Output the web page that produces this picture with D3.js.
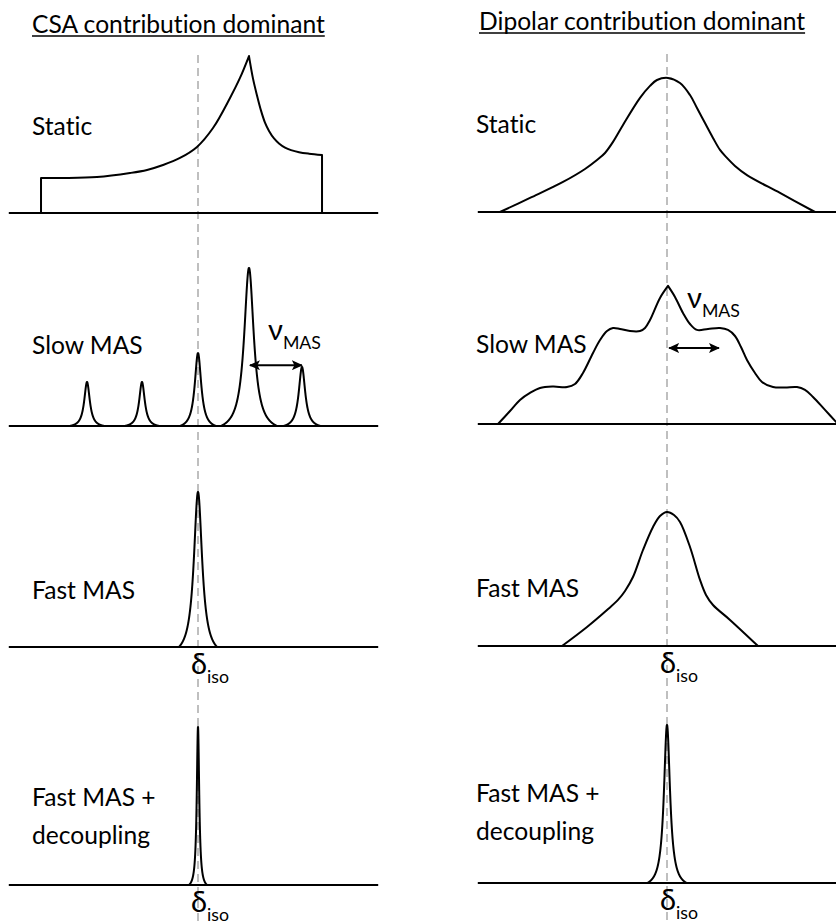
<!DOCTYPE html>
<html>
<head>
<meta charset="utf-8">
<script src="https://cdn.jsdelivr.net/npm/d3@7"></script>
<style>
  body { margin: 0; background: #fff; }
  svg { display: block; }
  text { font-family: Lato, "Open Sans", "Noto Sans", sans-serif; fill: #000;
         font-variant-ligatures: none; font-feature-settings: "liga" 0, "clig" 0; }
</style>
</head>
<body>
<svg id="chart" width="836" height="924"></svg>
<script>
// ---- Text ----
const columnTitles = ["CSA contribution dominant", "Dipolar contribution dominant"];
const rowLabels = [["Static"], ["Slow MAS"], ["Fast MAS"], ["Fast MAS +", "decoupling"]];
const isoLabel = ["δ", "iso"];
const masLabel = ["ν", "MAS"];

// ---- Data: x = offset from δiso in units of the spinning rate, y = normalised intensity ----
const baselineExtent = [-3.57, 3.40];

// CSA, static: powder pattern (rising edge up to the singularity, then the falling side)
const csaStaticLeftEdge = -2.962;
const csaStaticRightEdge = 2.340;
const csaStaticRise = [
  [-2.962, 0.219], [-2.547, 0.219], [-1.906, 0.225], [-1.283, 0.250], [-0.962, 0.269],
  [-0.660, 0.300], [-0.340, 0.344], [-0.019, 0.413], [0.283, 0.531], [0.604, 0.719],
  [0.792, 0.844], [0.962, 0.981]
];
const csaStaticFall = [
  [0.962, 0.981], [1.038, 0.840], [1.113, 0.735], [1.189, 0.640], [1.264, 0.565],
  [1.340, 0.513], [1.434, 0.466], [1.528, 0.435], [1.642, 0.409], [1.755, 0.393],
  [1.906, 0.380], [2.094, 0.371], [2.340, 0.363]
];

// CSA, slow MAS: spinning sidebands
const csaSidebandPos    = [-2.094, -1.057, 0, 0.962, 1.962];
const csaSidebandHeight = [0.275, 0.275, 0.456, 0.988, 0.369];
const csaSidebandWidth  = [0.064, 0.064, 0.074, 0.11, 0.074];
const csaSidebandFoot   = [0.33, 0.33, 0.34, 0.53, 0.35];

// CSA, fast MAS and fast MAS + decoupling: single isotropic line
const csaFastPeak = { pos: 0, height: 0.969, width: 0.095, foot: 0.36 };
const csaDecPeak  = { pos: 0, height: 0.988, width: 0.028, foot: 0.17 };

// Dipolar, static: broad line
const dipStaticShape = [
  [-3.151, 0], [-2.585, 0.088], [-1.962, 0.188], [-1.547, 0.269], [-1.321, 0.325],
  [-1.170, 0.369], [-1.019, 0.438], [-0.830, 0.544], [-0.509, 0.713], [-0.321, 0.788],
  [-0.189, 0.825], [0.019, 0.838], [0.245, 0.806], [0.434, 0.731], [0.566, 0.650],
  [0.717, 0.556], [0.868, 0.463], [1.000, 0.388], [1.132, 0.338], [1.283, 0.288],
  [1.509, 0.231], [2.132, 0.119], [2.792, 0]
];

// Dipolar, slow MAS: partly resolved sideband envelope
const dipSlowRise = [
  [-3.189, 0], [-2.962, 0.081], [-2.774, 0.150], [-2.585, 0.194], [-2.396, 0.225],
  [-2.151, 0.234], [-1.887, 0.231], [-1.736, 0.250], [-1.585, 0.319], [-1.396, 0.444],
  [-1.264, 0.525], [-1.132, 0.581], [-1.019, 0.600], [-0.887, 0.594], [-0.698, 0.581],
  [-0.509, 0.581], [-0.415, 0.600], [-0.321, 0.650], [-0.132, 0.788], [0.019, 0.863]
];
const dipSlowFall = [
  [0.019, 0.863], [0.151, 0.794], [0.302, 0.694], [0.434, 0.625], [0.566, 0.588],
  [0.774, 0.594], [1.000, 0.600], [1.151, 0.588], [1.283, 0.550], [1.396, 0.481],
  [1.509, 0.400], [1.660, 0.319], [1.792, 0.263], [2.000, 0.231], [2.226, 0.228],
  [2.453, 0.231], [2.604, 0.213], [2.755, 0.169], [2.981, 0.088], [3.226, 0]
];

// Dipolar, fast MAS
const dipFastShape = [
  [-1.981, 0], [-1.509, 0.119], [-1.132, 0.225], [-0.925, 0.288], [-0.792, 0.344],
  [-0.642, 0.431], [-0.453, 0.600], [-0.264, 0.744], [-0.132, 0.813], [0, 0.838],
  [0.132, 0.819], [0.245, 0.775], [0.434, 0.619], [0.623, 0.413], [0.736, 0.319],
  [0.868, 0.256], [1.189, 0.163], [1.717, 0]
];

// Dipolar, fast MAS + decoupling
const dipDecPeak = { pos: 0, height: 0.988, width: 0.07, foot: 0.37 };

// Spinning-rate arrows: [from, to, intensity level]
const csaMasArrow = [0.98, 1.96, 0.38];
const dipMasArrow = [0.04, 0.98, 0.475];

// ---- Layout ----
const W = 836, H = 924;
const panels = [
  { center: 198, baselines: [213, 426, 647, 885], labelX: 32, titleY: 32.5, titleX: 32 },
  { center: 667, baselines: [212, 424, 646, 883], labelX: 476, titleY: 29.5, titleX: 479 }
];
const unitPx = 53;       // pixels per unit of spinning rate
const intensityPx = 160; // pixels per unit intensity

const svg = d3.select("#chart");
svg.append("rect").attr("width", W).attr("height", H).attr("fill", "#fff");

// Font size chosen so the title spans its intended width
const probe = svg.append("text").attr("font-size", 100).text(columnTitles[0]);
const w100 = probe.node().getComputedTextLength();
probe.remove();
const fs = 100 * 293 / w100;
const subFs = fs * 0.72;
const greekFs = fs * 1.18;

const defs = svg.append("defs");
defs.append("marker")
  .attr("id", "head")
  .attr("viewBox", "0 0 11 10")
  .attr("refX", 10).attr("refY", 5)
  .attr("markerWidth", 11).attr("markerHeight", 10)
  .attr("markerUnits", "userSpaceOnUse")
  .attr("orient", "auto-start-reverse")
  .append("path").attr("d", "M0,0 L11,5 L0,10 L2.5,5 Z").attr("fill", "#000");

// Lorentzian line sampled over its foot, lifted so it meets the baseline at the foot
function lorentzPoints(pos, height, width, foot) {
  const L = dx => 1 / (1 + (dx / width) * (dx / width));
  const lf = L(foot);
  return d3.range(-foot, foot + 1e-9, foot / 200).map(dx =>
    [pos + dx, height * (L(dx) - lf) / (1 - lf)]);
}

function joinPaths(parts) {
  return parts.map((p, i) => (i === 0 ? p : "L" + p.slice(1))).join("");
}

const smooth = d3.curveCatmullRom.alpha(0.5);

panels.forEach((p, col) => {
  const x = d3.scaleLinear().domain([0, 1]).range([p.center, p.center + unitPx]);
  const rowY = p.baselines.map(b => d3.scaleLinear().domain([0, 1]).range([b, b - intensityPx]));
  const g = svg.append("g");

  // δiso reference (dashed)
  g.append("line")
    .attr("x1", x(0)).attr("x2", x(0))
    .attr("y1", col === 0 ? 55 : 54).attr("y2", H)
    .attr("stroke", "#bfbfbf").attr("stroke-width", 2)
    .attr("stroke-dasharray", "8,5");

  // Title
  const t = g.append("text").attr("x", p.titleX).attr("y", p.titleY)
    .attr("font-size", fs).text(columnTitles[col]);
  const tw = t.node().getComputedTextLength();
  g.append("line").attr("x1", p.titleX).attr("x2", p.titleX + tw)
    .attr("y1", p.titleY + 3.5).attr("y2", p.titleY + 3.5)
    .attr("stroke", "#000").attr("stroke-width", 1.6);

  // Baselines
  rowY.forEach(y => {
    g.append("line")
      .attr("x1", x(baselineExtent[0])).attr("x2", x(baselineExtent[1]))
      .attr("y1", y(0)).attr("y2", y(0))
      .attr("stroke", "#000").attr("stroke-width", 2);
  });

  const curve = (y, c) => d3.line().x(d => x(d[0])).y(d => y(d[1])).curve(c || d3.curveLinear);
  const drawPath = d => g.append("path").attr("d", d)
    .attr("fill", "none").attr("stroke", "#000").attr("stroke-width", 2)
    .attr("stroke-linejoin", "round");

  if (col === 0) {
    // Static powder pattern
    const ys = rowY[0];
    drawPath(joinPaths([
      curve(ys)([[csaStaticLeftEdge, 0], [csaStaticLeftEdge, csaStaticRise[0][1]]]),
      curve(ys, smooth)(csaStaticRise),
      curve(ys, smooth)(csaStaticFall),
      curve(ys)([[csaStaticRightEdge, csaStaticFall[csaStaticFall.length - 1][1]], [csaStaticRightEdge, 0]])
    ]));
    // Sidebands
    csaSidebandPos.forEach((pos, i) => {
      drawPath(curve(rowY[1])(lorentzPoints(pos, csaSidebandHeight[i], csaSidebandWidth[i], csaSidebandFoot[i])));
    });
    drawPath(curve(rowY[2])(lorentzPoints(csaFastPeak.pos, csaFastPeak.height, csaFastPeak.width, csaFastPeak.foot)));
    drawPath(curve(rowY[3])(lorentzPoints(csaDecPeak.pos, csaDecPeak.height, csaDecPeak.width, csaDecPeak.foot)));
  } else {
    drawPath(curve(rowY[0], smooth)(dipStaticShape));
    drawPath(joinPaths([
      curve(rowY[1], smooth)(dipSlowRise),
      curve(rowY[1], smooth)(dipSlowFall)
    ]));
    drawPath(curve(rowY[2], smooth)(dipFastShape));
    drawPath(curve(rowY[3])(lorentzPoints(dipDecPeak.pos, dipDecPeak.height, dipDecPeak.width, dipDecPeak.foot)));
  }

  // ν_MAS arrow and label
  const arr = col === 0 ? csaMasArrow : dipMasArrow;
  const ay = rowY[1](arr[2]);
  g.append("line")
    .attr("x1", x(arr[0])).attr("x2", x(arr[1]))
    .attr("y1", ay).attr("y2", ay)
    .attr("stroke", "#000").attr("stroke-width", 2)
    .attr("marker-start", "url(#head)").attr("marker-end", "url(#head)");
  const nu = g.append("text")
    .attr("x", col === 0 ? 268 : 687)
    .attr("y", col === 0 ? 340 : 308)
    .attr("font-size", greekFs);
  nu.append("tspan").text(masLabel[0]);
  nu.append("tspan").attr("dy", 9).attr("font-size", subFs).text(masLabel[1]);

  // Row labels
  const labelBaselines = col === 0 ? [135, 354, 599, 806] : [133, 353, 597, 802];
  rowLabels.forEach((lines, r) => {
    lines.forEach((s, k) => {
      g.append("text").attr("x", p.labelX).attr("y", labelBaselines[r] + k * 38)
        .attr("font-size", fs).text(s);
    });
  });

  // δiso labels under the two MAS rows
  [2, 3].forEach(r => {
    const d = g.append("text")
      .attr("x", x(0) - 7)
      .attr("y", rowY[r](0) + 27)
      .attr("font-size", greekFs);
    d.append("tspan").text(isoLabel[0]);
    d.append("tspan").attr("dy", 9).attr("font-size", subFs).text(isoLabel[1]);
  });
});
</script>
</body>
</html>
